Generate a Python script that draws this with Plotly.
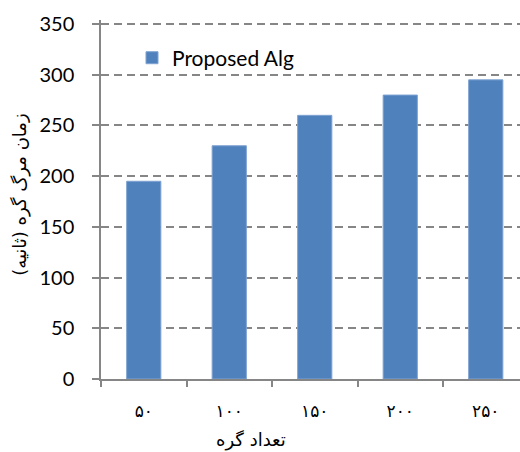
import plotly.graph_objects as go

# Node count categories (Persian digits) and node death times in seconds
categories = ["۵۰", "۱۰۰", "۱۵۰", "۲۰۰", "۲۵۰"]
death_time = [195, 230, 260, 280, 295]
series_name = "Proposed Alg"
y_ticks = [0, 50, 100, 150, 200, 250, 300, 350]

W, H = 520, 452
ML, MR, MB = 101, 0, 73
px_per_unit = 354.5 / 350
y_top = 354  # headroom above 350 so its gridline is drawn
plot_h = y_top * px_per_unit
MT = H - MB - plot_h
plot_w = W - ML - MR

fig = go.Figure()
fig.add_trace(go.Bar(
    x=categories,
    y=death_time,
    name=series_name,
    width=0.4,
    marker=dict(color="#4F81BD", line=dict(color="#7FA3D2", width=1)),
    showlegend=True,
))

grid_color = "#868686"
fig.update_layout(
    width=W, height=H,
    margin=dict(l=ML, r=MR, t=MT, b=MB, pad=0),
    paper_bgcolor="white",
    plot_bgcolor="white",
    showlegend=True,
    legend=dict(
        x=(132 - ML) / plot_w, y=(H - MB - 38) / plot_h,
        xanchor="left", yanchor="top",
        bgcolor="rgba(0,0,0,0)",
        font=dict(family="Lato, sans-serif", size=21, color="#000000"),
        itemwidth=30,
    ),
    xaxis=dict(
        type="category",
        range=[-0.5, -0.5 + plot_w / 85.5],
        tickson="boundaries",
        ticks="outside", ticklen=6, tickcolor=grid_color, tickwidth=1.5,
        showline=True, linecolor=grid_color, linewidth=1.5,
        showgrid=False, zeroline=False,
        tickfont=dict(family="DejaVu Sans", size=17, color="#000000"),
        ticklabelstandoff=16,
    ),
    yaxis=dict(
        range=[0, y_top],
        tickvals=y_ticks,
        ticks="outside", ticklen=7, tickcolor=grid_color, tickwidth=1.5,
        showline=True, linecolor=grid_color, linewidth=1.5,
        showgrid=True, gridcolor=grid_color, gridwidth=2, griddash="8px,5px",
        zeroline=False,
        tickfont=dict(family="Lato, sans-serif", size=20, color="#000000"),
        ticklabelstandoff=14,
    ),
)

# Axis titles in Persian
fig.add_annotation(
    text="تعداد گره", xref="paper", yref="paper",
    x=(251 - ML) / plot_w, y=-(440 - (H - MB)) / plot_h,
    xanchor="center", yanchor="middle", showarrow=False,
    font=dict(family="DejaVu Sans", size=18, color="#000000"),
)
fig.add_annotation(
    text="زمان مرگ گره (ثانیه)", xref="paper", yref="paper",
    x=(20 - ML) / plot_w, y=(H - MB - 195) / plot_h,
    xanchor="center", yanchor="middle", showarrow=False, textangle=-90,
    font=dict(family="DejaVu Sans", size=18, color="#000000"),
)

fig.write_html("out.html")
